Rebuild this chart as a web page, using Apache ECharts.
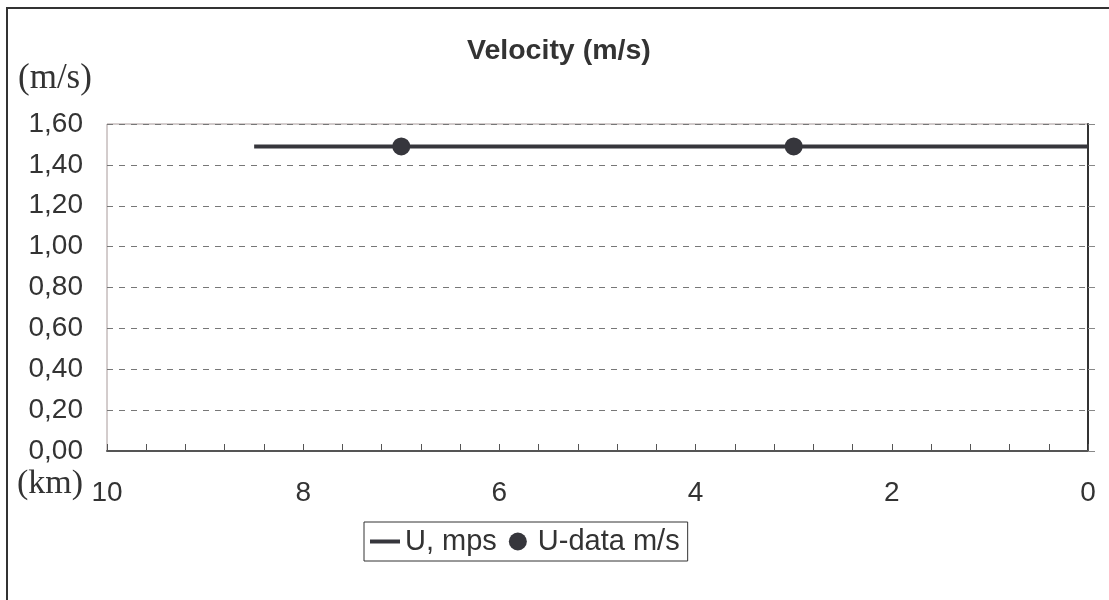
<!DOCTYPE html>
<html>
<head>
<meta charset="utf-8">
<script src="https://cdn.jsdelivr.net/npm/echarts@6/dist/echarts.min.js"></script>
<style>
html,body{margin:0;padding:0;background:#fff;}
#main{width:1109px;height:600px;}
</style>
</head>
<body>
<div id="main"></div>
<script>
// ---- data ----
var titleText = 'Velocity (m/s)';
var yUnit = '(m/s)';
var xUnit = '(km)';
var lineName = 'U, mps';
var pointName = 'U-data m/s';
var lineKm = [8.5, 8.0, 7.5, 7.0, 6.5, 6.0, 5.5, 5.0, 4.5, 4.0, 3.5, 3.0, 2.5, 2.0, 1.5, 1.0, 0.5, 0.0];
var lineU  = [1.49, 1.49, 1.49, 1.49, 1.49, 1.49, 1.49, 1.49, 1.49, 1.49, 1.49, 1.49, 1.49, 1.49, 1.49, 1.49, 1.49, 1.49];
var pointKm = [7, 3];
var pointU  = [1.49, 1.49];
var xTicks = [0, 2, 4, 6, 8, 10];
var yTicks = [0, 0.2, 0.4, 0.6, 0.8, 1.0, 1.2, 1.4, 1.6];

var lineData = lineKm.map(function (k, i) { return [k, lineU[i]]; });
var pointData = pointKm.map(function (k, i) { return [k, pointU[i]]; });

var sans = "'Liberation Sans', Arial, sans-serif";
var serif = "'Liberation Serif', 'Times New Roman', serif";
var txt = '#333333';
var markColor = '#36363c';

var chart = echarts.init(document.getElementById('main'), null, {renderer: 'canvas'});
chart.setOption({
  backgroundColor: '#ffffff',
  animation: false,
  title: {
    text: titleText,
    left: 462,
    top: 32,
    textStyle: {fontFamily: sans, fontSize: 28.5, fontWeight: 'bold', color: txt}
  },
  legend: {
    left: 364,
    top: 522,
    padding: [5, 8, 5, 6],
    itemWidth: 30,
    itemHeight: 18,
    itemGap: 12,
    borderColor: '#333',
    borderWidth: 1,
    textStyle: {fontFamily: sans, fontSize: 29, color: txt},
    data: [
      {name: lineName, icon: 'path://M0,0L30,0L30,4L0,4Z'},
      {name: pointName, icon: 'circle'}
    ]
  },
  grid: {
    left: 107, right: 21, top: 124, bottom: 149,
    show: true, borderColor: '#a89a9a', borderWidth: 1, backgroundColor: 'transparent',
    containLabel: false
  },
  xAxis: {
    type: 'value',
    min: xTicks[0], max: xTicks[xTicks.length - 1], interval: 2,
    inverse: true,
    axisLine: {show: true, onZero: false, lineStyle: {color: '#555', width: 2}},
    axisTick: {show: true, inside: true, length: 7, lineStyle: {color: '#555', width: 1}},
    minorTick: {show: true, splitNumber: 5, length: 7, lineStyle: {color: '#555', width: 1}},
    splitLine: {show: false},
    axisLabel: {fontFamily: sans, fontSize: 28, color: txt, margin: 28}
  },
  yAxis: [{
    type: 'value',
    position: 'left',
    min: yTicks[0], max: yTicks[yTicks.length - 1], interval: 0.2,
    axisLine: {show: false},
    axisTick: {show: false},
    splitLine: {show: true, lineStyle: {color: '#777', type: [6, 6], width: 1}},
    axisLabel: {
      fontFamily: sans, fontSize: 28, color: txt, margin: 24,
      formatter: function (v) { return v.toFixed(2).replace('.', ','); }
    }
  }, {
    type: 'value',
    position: 'right',
    min: yTicks[0], max: yTicks[yTicks.length - 1], interval: 0.2,
    axisLine: {show: true, onZero: false, lineStyle: {color: '#333', width: 2}},
    axisTick: {show: true, inside: false, length: 7, lineStyle: {color: '#888', width: 1}},
    splitLine: {show: false},
    axisLabel: {show: false}
  }],
  graphic: [
    {type: 'rect', silent: true, shape: {x: 7, y: 8, width: 1300, height: 1000},
     style: {fill: 'none', stroke: '#333', lineWidth: 2}},
    {type: 'text', silent: true, left: 18, top: 61,
     style: {text: yUnit, font: '35px ' + serif, fill: txt}},
    {type: 'text', silent: true, left: 17, top: 467,
     style: {text: xUnit, font: '34px ' + serif, fill: txt}}
  ],
  series: [{
    name: lineName,
    type: 'line',
    data: lineData,
    symbol: 'none',
    lineStyle: {color: markColor, width: 4},
    itemStyle: {color: markColor},
    z: 3
  }, {
    name: pointName,
    type: 'scatter',
    data: pointData,
    symbol: 'circle',
    symbolSize: 18,
    itemStyle: {color: markColor, opacity: 1},
    z: 4
  }]
});
</script>
</body>
</html>
